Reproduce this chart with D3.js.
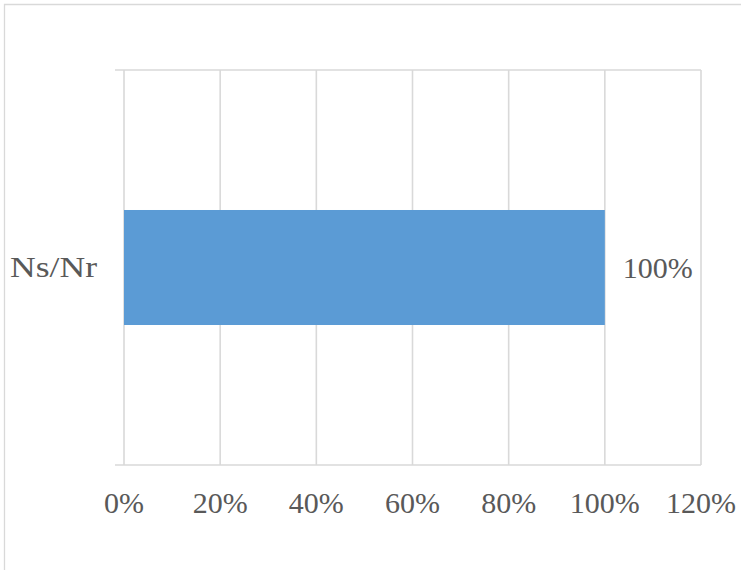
<!DOCTYPE html>
<html>
<head>
<meta charset="utf-8">
<script src="https://cdn.jsdelivr.net/npm/d3@7"></script>
<style>
  html, body { margin: 0; padding: 0; background: #fff; }
  svg { display: block; }
  text { font-family: "Liberation Serif", "DejaVu Serif", serif; fill: #595959; }
</style>
</head>
<body>
<svg id="chart" width="741" height="570"></svg>
<script>
const categories = ["Ns/Nr"];
const values = [1.0];
const tickValues = [0, 0.2, 0.4, 0.6, 0.8, 1.0, 1.2];
const dataLabels = ["100%"];

const svg = d3.select("#chart");
const W = 741, H = 570;
const plot = { left: 124, right: 701, top: 70, bottom: 465 };
const gridColor = "#d9d9d9";
const fontSize = 30;

// Chart outer border (only top/left visible in frame)
svg.append("path")
  .attr("d", `M4.5,${H + 2} L4.5,4.5 L${W + 2},4.5`)
  .attr("fill", "none").attr("stroke", gridColor).attr("stroke-width", 1.3);

const x = d3.scaleLinear().domain([0, 1.2]).range([plot.left, plot.right]);
const y = d3.scaleBand().domain(categories).range([plot.top, plot.bottom])
  .paddingInner(0.549).paddingOuter(0.549);

// vertical gridlines
svg.append("g").selectAll("line").data(tickValues).join("line")
  .attr("x1", d => x(d)).attr("x2", d => x(d))
  .attr("y1", plot.top).attr("y2", plot.bottom)
  .attr("stroke", gridColor).attr("stroke-width", 1.6);

// category axis boundaries with tick stubs
const boundaries = [plot.top, plot.bottom];
svg.append("g").selectAll("line").data(boundaries).join("line")
  .attr("x1", plot.left - 9).attr("x2", plot.right)
  .attr("y1", d => d).attr("y2", d => d)
  .attr("stroke", gridColor).attr("stroke-width", 1.6);

// bars
svg.append("g").selectAll("rect").data(values).join("rect")
  .attr("x", x(0))
  .attr("y", (d, i) => y(categories[i]))
  .attr("width", d => x(d) - x(0))
  .attr("height", y.bandwidth())
  .attr("fill", "#5b9bd5");

// data labels
svg.append("g").selectAll("text").data(values).join("text")
  .attr("x", d => x(d) + 18)
  .attr("y", (d, i) => y(categories[i]) + y.bandwidth() / 2 + 10)
  .attr("font-size", fontSize)
  .text((d, i) => dataLabels[i]);

// x tick labels
const fmt = d3.format(".0%");
svg.append("g").selectAll("text").data(tickValues).join("text")
  .attr("x", d => x(d))
  .attr("y", 512.5)
  .attr("text-anchor", "middle")
  .attr("font-size", fontSize)
  .text(d => fmt(d));

// category labels
svg.append("g").selectAll("text").data(categories).join("text")
  .attr("x", 97)
  .attr("y", d => y(d) + y.bandwidth() / 2 + 9.5)
  .attr("text-anchor", "end")
  .attr("font-size", fontSize)
  .attr("textLength", 87)
  .attr("lengthAdjust", "spacingAndGlyphs")
  .text(d => d);
</script>
</body>
</html>
